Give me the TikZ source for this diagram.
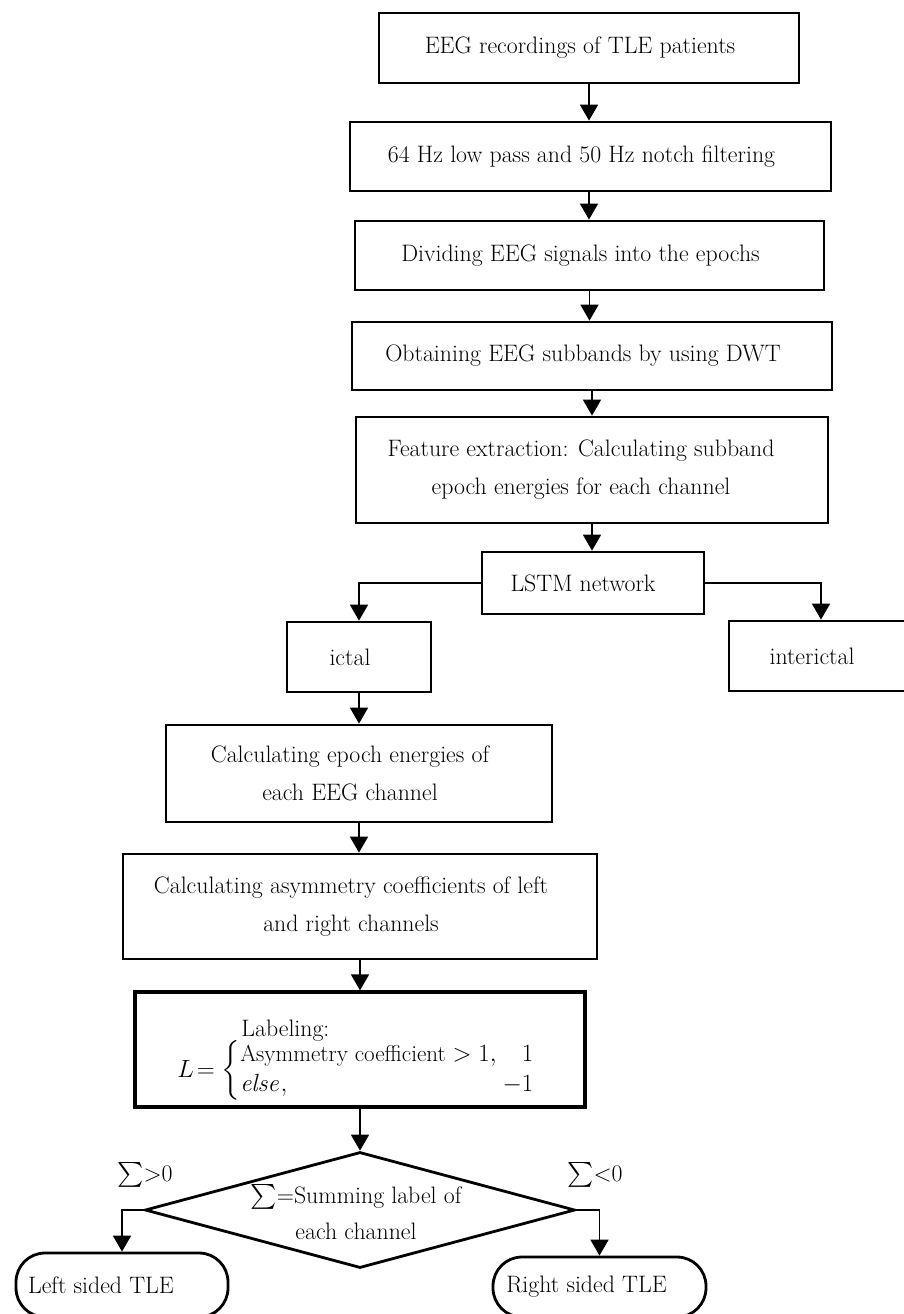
\documentclass[tikz,border=0pt]{standalone}
\usepackage{amsmath}
\usetikzlibrary{shapes.geometric,arrows.meta}
\newcommand\figfont{\fontsize{23.8}{38}\selectfont}
\newcommand\tshift{\kern18pt}
\begin{document}
\begin{tikzpicture}[x=1pt,y=-1pt,
  box/.style={draw, line width=2.8pt, inner sep=0pt, align=center, font=\figfont},
  conn/.style={line width=1.8pt, -{Triangle[width=18pt,length=16pt]}},
  term/.style={draw, line width=2.8pt, rounded corners=29pt, inner sep=0pt, font=\figfont},
  dia/.style={draw, diamond, aspect=3.7, line width=2.8pt, inner sep=0pt, font=\figfont},
  lab/.style={inner sep=0pt, font=\figfont}]
\useasboundingbox (0,0) rectangle (903,1314);

\node[box, minimum width=420pt, minimum height=70pt] (b1) at (589,48) {EEG recordings of TLE patients\tshift};
\node[box, minimum width=481pt, minimum height=69pt] (b2) at (590.5,156.5) {64 Hz low pass and 50 Hz notch filtering\tshift};
\node[box, minimum width=469pt, minimum height=69pt] (b3) at (589.5,255.5) {Dividing EEG signals into the epochs\tshift};
\node[box, minimum width=480pt, minimum height=68pt] (b4) at (592,356) {Obtaining EEG subbands by using DWT\tshift};
\node[box, minimum width=472pt, minimum height=106pt] (fe) at (592,470) {Feature extraction: Calculating subband\kern22pt\\epoch energies for each channel\kern22pt};
\node[box, minimum width=222pt, minimum height=62pt] (lstm) at (593,583) {LSTM network\kern20pt};
\node[box, minimum width=144pt, minimum height=70pt] (ictal) at (359,657) {ictal\tshift};
\node[box, minimum width=184pt, minimum height=70pt] (inter) at (821,656) {interictal\tshift};
\node[box, minimum width=386pt, minimum height=97pt] (c1) at (359,773.5) {Calculating epoch energies of\tshift\\each EEG channel\tshift};
\node[box, minimum width=474pt, minimum height=105pt] (asym) at (360,906.5) {Calculating asymmetry coefficients of left\tshift\\and right channels\tshift};
\node[box, line width=3.3pt, minimum width=450pt, minimum height=115pt] (lab) at (360,1049.5) {%
  \smash{\raisebox{-12pt}{\begin{tabular}{@{}l@{}}\hspace*{64pt}Labeling:\\[-7pt]
  {\fontsize{23}{28}\selectfont\renewcommand\arraystretch{1.05}$L\mskip2mu{=}\mskip2mu\left\{\begin{array}{@{}l@{\hspace{6pt}}r@{}}\text{Asymmetry coefficient}>1, & 1\\ \mathit{else}, & -1\end{array}\right.$}\kern8pt
  \end{tabular}}}};
\node[dia, minimum width=430pt, minimum height=116pt] (dia) at (360,1210) {%
  \smash{\raisebox{-10pt}{\begin{tabular}{@{}c@{}}$\sum$=Summing label of\\[-2pt]each channel\end{tabular}}}\kern8pt};
\node[term, minimum width=212pt, minimum height=64pt] (lt) at (122,1285) {Left sided TLE\kern42pt};
\node[term, minimum width=213pt, minimum height=60pt] (rt) at (599.5,1287) {Right sided TLE\kern26pt};
\node[lab] (sgt) at (145,1175) {$\sum$>0};
\node[lab] (slt) at (595,1175) {$\sum$<0};

\draw[conn] (b1.south) -- (b1.south |- b2.north);
\draw[conn] (b2.south -| b1.south) -- (b1.south |- b3.north);
\draw[conn] (b3.south) -- (b3.south |- b4.north);
\draw[conn] (b4.south) -- (b4.south |- fe.north);
\draw[conn] (fe.south) -- (fe.south |- lstm.north);
\draw[conn] (lstm.west) -- (lstm.west -| ictal.north) -- (ictal.north);
\draw[conn] (lstm.east) -- (lstm.east -| inter.north) -- (inter.north);
\draw[conn] (ictal.south) -- (ictal.south |- c1.north);
\draw[conn] (c1.south) -- (c1.south |- asym.north);
\draw[conn] (asym.south) -- (asym.south |- lab.north);
\draw[conn] (lab.south) -- (dia.north);
\draw[conn] (dia.west) -- (dia.west -| lt.north) -- (lt.north);
\draw[conn] (dia.east) -- (dia.east -| rt.north) -- (rt.north);
\end{tikzpicture}
\end{document}
